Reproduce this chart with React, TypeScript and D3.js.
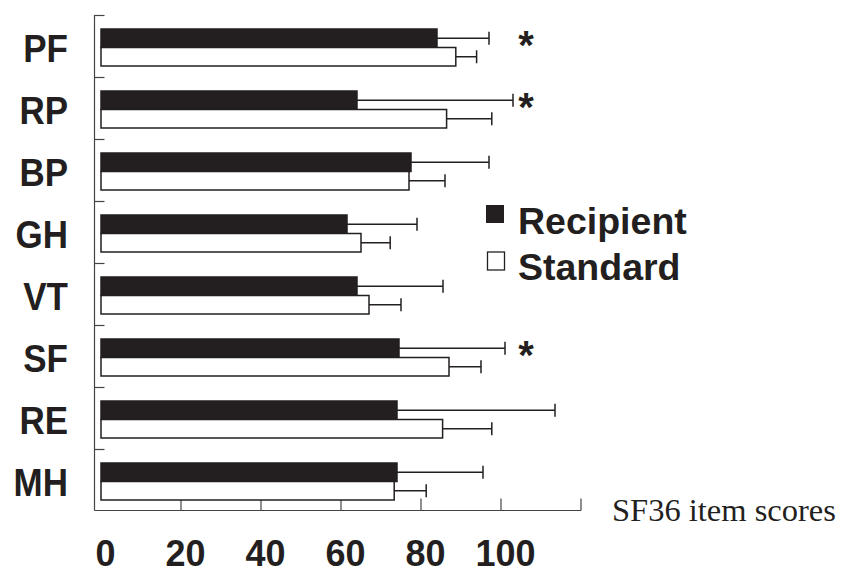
import React from 'react';
import * as d3 from 'd3';

const categories = ['PF', 'RP', 'BP', 'GH', 'VT', 'SF', 'RE', 'MH'];
const recipientMean = [84, 64, 77.5, 61.5, 64, 74.5, 74, 74];
const recipientSD = [13, 39, 19.5, 17.5, 21.5, 26.5, 39.5, 21.5];
const standardMean = [88.7, 86.4, 77, 65, 67, 87, 85.4, 73.3];
const standardSD = [5.2, 11.3, 9, 7.3, 8, 8, 12.3, 8];
const significant = [true, true, false, false, false, true, false, false];
const series = ['Recipient', 'Standard'];
const xTicks = [20, 40, 60, 80, 100, 120];
const xTickLabels = [0, 20, 40, 60, 80, 100];
const axisTitle = 'SF36 item scores';

const W = 847;
const H = 583;
const INK = '#231f20';
const BOLD = '"Liberation Sans", Arial, sans-serif';
const SERIF = '"Liberation Serif", "Times New Roman", serif';

export default function App() {
  const x = d3.scaleLinear().domain([0, 120]).range([101, 581]);
  const y = d3.scaleBand<string>().domain(categories).range([15, 511]);
  const sub = d3.scaleBand<string>().domain(series).range([14, 51]);
  const legendY = d3.scaleBand<string>().domain(series).range([205, 297]);
  const axisX = 94.5;
  const axisY = 510.5;
  const capH = 13;

  const rows = categories.map((c, i) => ({
    c,
    vals: [
      { s: 'Recipient', m: recipientMean[i], sd: recipientSD[i] },
      { s: 'Standard', m: standardMean[i], sd: standardSD[i] },
    ],
    sig: significant[i],
  }));

  return (
    <svg width={W} height={H} style={{ position: 'absolute', left: 0, top: 0, background: '#fff' }}>
      <rect x={0} y={0} width={W} height={H} fill="#fff" />
      {/* y axis */}
      <line x1={axisX} x2={axisX} y1={15} y2={axisY} stroke="#444" strokeWidth={1.2} />
      {categories.map((c) => (
        <line key={'yt' + c} x1={axisX} x2={axisX + 10} y1={(y(c) as number) + 0.5} y2={(y(c) as number) + 0.5} stroke="#444" strokeWidth={1.2} />
      ))}
      {/* x axis */}
      <line x1={axisX} x2={x(120)} y1={axisY} y2={axisY} stroke="#444" strokeWidth={1.2} />
      {xTicks.map((t) => (
        <line key={'xt' + t} x1={x(t)} x2={x(t)} y1={axisY} y2={axisY - 12} stroke="#444" strokeWidth={1.2} />
      ))}
      {xTickLabels.map((t) => (
        <text key={'xl' + t} transform={`translate(${x(t) + 4.5},566) scale(1,1.05)`} textAnchor="middle" fontFamily={BOLD} fontWeight="bold" fontSize={36} fill={INK}>
          {t}
        </text>
      ))}
      <text x={612} y={521} fontFamily={SERIF} fontSize={32.5} fill={INK}>{axisTitle}</text>
      {/* category labels */}
      {categories.map((c) => (
        <text key={'cl' + c} transform={`translate(68,${(y(c) as number) + y.bandwidth() / 2 + 16}) scale(1,1.1)`} textAnchor="end" fontFamily={BOLD} fontWeight="bold" fontSize={35} fill={INK}>
          {c}
        </text>
      ))}
      {/* bars */}
      {rows.map((r) => (
        <g key={'g' + r.c} transform={`translate(0,${y(r.c)})`}>
          {r.vals.map((v) => {
            const by = sub(v.s) as number;
            const bh = sub.bandwidth();
            const cy = by + bh / 2;
            const black = v.s === 'Recipient';
            return (
              <g key={v.s}>
                <line x1={x(v.m)} x2={x(v.m + v.sd)} y1={cy} y2={cy} stroke={INK} strokeWidth={1.5} />
                <line x1={x(v.m + v.sd)} x2={x(v.m + v.sd)} y1={cy - capH / 2} y2={cy + capH / 2} stroke={INK} strokeWidth={1.5} />
                <rect
                  x={x(0)}
                  y={by}
                  width={x(v.m) - x(0)}
                  height={bh}
                  fill={black ? INK : '#fff'}
                  stroke={INK}
                  strokeWidth={1.5}
                />
              </g>
            );
          })}
          {r.sig && (
            <text x={526} y={(sub('Recipient') as number) + 30} textAnchor="middle" fontFamily={BOLD} fontWeight="bold" fontSize={40} fill={INK}>*</text>
          )}
        </g>
      ))}
      {/* legend */}
      {series.map((s, i) => {
        const ly = legendY(s) as number;
        return (
          <g key={'lg' + s}>
            {i === 0 ? (
              <rect x={486} y={ly} width={18} height={18} fill={INK} />
            ) : (
              <rect x={487.5} y={ly + 1} width={17} height={18} fill="#fff" stroke={INK} strokeWidth={1.3} />
            )}
            <text x={518} y={ly + 29} fontFamily={BOLD} fontWeight="bold" fontSize={37.5} fill={INK}>{s}</text>
          </g>
        );
      })}
    </svg>
  );
}
